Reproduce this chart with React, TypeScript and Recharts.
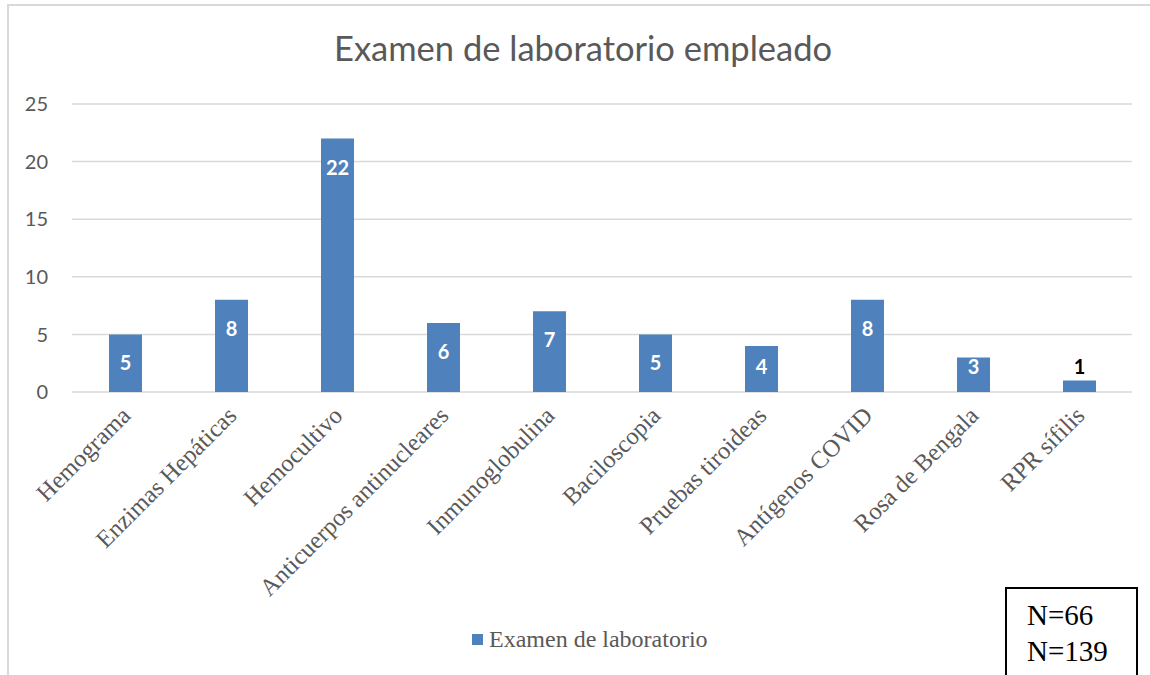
import React from 'react';
import { BarChart, Bar, XAxis, YAxis, CartesianGrid, LabelList } from 'recharts';

const categories = [
  'Hemograma',
  'Enzimas Hepáticas',
  'Hemocultivo',
  'Anticuerpos antinucleares',
  'Inmunoglobulina',
  'Baciloscopia',
  'Pruebas tiroideas',
  'Antígenos COVID',
  'Rosa de Bengala',
  'RPR sífilis',
];
const values = [5, 8, 22, 6, 7, 5, 4, 8, 3, 1];
const yTicks = [0, 5, 10, 15, 20, 25];

const data = categories.map((name, i) => ({ name, value: values[i] }));

const GRAY = '#595959';
const BLUE = '#4f81bd';

const CategoryTick = (props: any) => {
  const { x, y, payload } = props;
  return (
    <g transform={`translate(${x + 7},${y + 17})`}>
      <text
        transform="rotate(-45)"
        textAnchor="end"
        fill={GRAY}
        fontFamily="'Liberation Serif', serif"
        fontSize={24.5}
      >
        {payload.value}
      </text>
    </g>
  );
};

const ValueLabel = (props: any) => {
  const { x, y, width, height, value } = props;
  const inside = value >= 2;
  const off = Math.min(29, height - 25);
  return (
    <text
      x={x + width / 2}
      y={inside ? y + off + 7 : y - 6}
      textAnchor="middle"
      fill={inside ? '#ffffff' : '#000000'}
      fontFamily="Lato, 'Open Sans', sans-serif"
      fontWeight="bold"
      fontSize={20}
    >
      {value}
    </text>
  );
};

export default function App() {
  return (
    <div style={{ position: 'absolute', left: 0, top: 0, width: 1150, height: 675, background: '#fff', overflow: 'hidden' }}>
      <div
        style={{
          position: 'absolute',
          left: 7,
          top: 4,
          width: 1150,
          height: 680,
          borderTop: '2px solid #d9d9d9',
          borderLeft: '2px solid #d9d9d9',
        }}
      />
      <div
        style={{
          position: 'absolute',
          left: 0,
          width: 1166,
          top: 27,
          textAlign: 'center',
          fontFamily: 'Lato, sans-serif',
          fontSize: 34.5,
          color: GRAY,
        }}
      >
        Examen de laboratorio empleado
      </div>
      <div style={{ position: 'absolute', left: 0, top: 0 }}>
        <BarChart
          width={1150}
          height={675}
          data={data}
          margin={{ top: 104, right: 18, left: 12, bottom: 253 }}
        >
          <CartesianGrid vertical={false} stroke="#d9d9d9" strokeWidth={1.5} />
          <XAxis
            dataKey="name"
            axisLine={false}
            tickLine={false}
            interval={0}
            height={30}
            tick={<CategoryTick />}
          />
          <YAxis
            width={60}
            domain={[0, 25]}
            ticks={yTicks}
            axisLine={false}
            tickLine={false}
            tickMargin={18}
            tick={{ fill: GRAY, fontSize: 20, fontFamily: 'Lato, sans-serif' }}
          />
          <Bar dataKey="value" fill={BLUE} barSize={33} isAnimationActive={false}>
            <LabelList dataKey="value" content={<ValueLabel />} />
          </Bar>
        </BarChart>
      </div>
      <div
        style={{
          position: 'absolute',
          left: 472,
          top: 626,
          display: 'flex',
          alignItems: 'center',
          fontFamily: "'Liberation Serif', serif",
          fontSize: 24,
          color: GRAY,
        }}
      >
        <span style={{ display: 'inline-block', width: 11, height: 11, background: BLUE, marginRight: 6 }} />
        Examen de laboratorio
      </div>
      <div
        style={{
          position: 'absolute',
          left: 1005,
          top: 587,
          width: 133,
          height: 100,
          border: '2px solid #000',
          boxSizing: 'border-box',
          fontFamily: "'Liberation Serif', serif",
          fontSize: 29,
          lineHeight: '36px',
          color: '#000',
          paddingLeft: 20,
          paddingTop: 8,
        }}
      >
        N=66
        <br />
        N=139
      </div>
    </div>
  );
}
